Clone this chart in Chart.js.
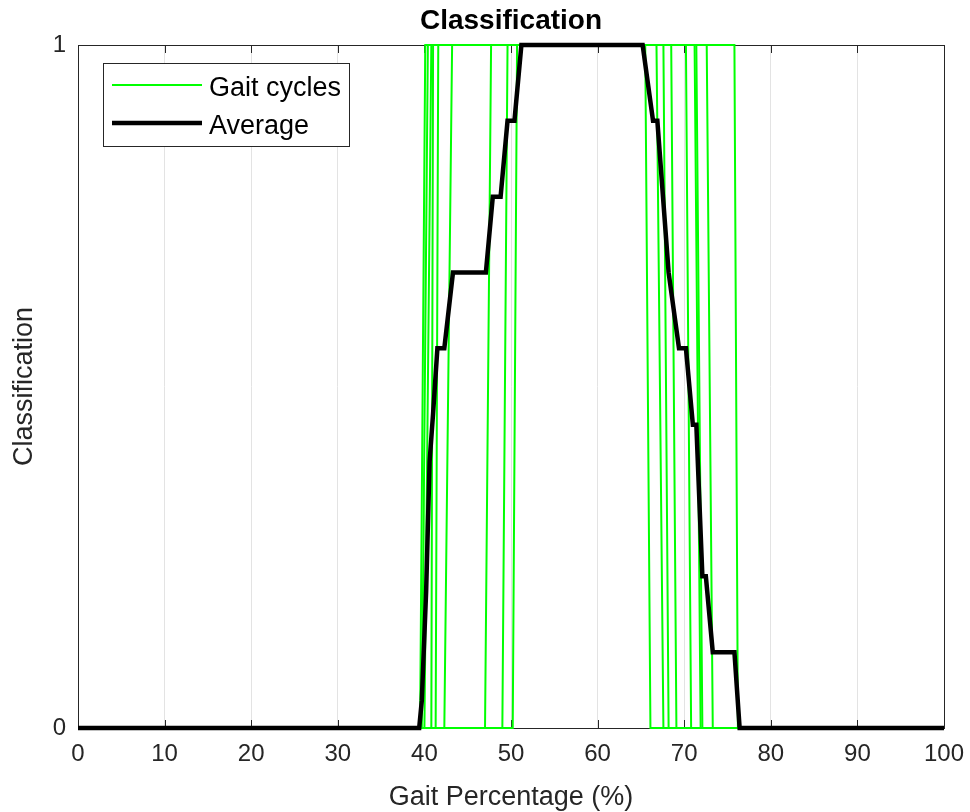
<!DOCTYPE html>
<html>
<head>
<meta charset="utf-8">
<script src="https://cdn.jsdelivr.net/npm/chart.js@4.4.1/dist/chart.umd.min.js"></script>
<style>
   html, body { margin: 0; padding: 0; background: #fff; }
   #wrap { width: 970px; height: 812px; }
</style>
</head>
<body>
<div id="wrap"><canvas id="chart-class"></canvas></div>
<script>
// dados (porcentagem da marcha)
const riseStart = [39.5, 39.7, 40.0, 40.8, 41.3, 42.3, 47.0, 49.0, 50.2];
const riseEnd   = [40.1, 40.4, 40.8, 41.0, 41.6, 43.2, 47.7, 49.6, 50.7];
const fallStart = [65.5, 66.8, 67.6, 68.5, 70.2, 71.2, 71.4, 72.6, 75.8];
const fallEnd   = [66.1, 67.6, 68.2, 69.1, 70.8, 71.9, 72.1, 73.3, 76.2];

// media (linha preta)
const avgX = [0, 39.4, 39.7, 40.2, 40.6, 41.0, 41.5, 42.3, 43.3, 47.1, 47.9, 48.8, 49.6, 50.4, 51.2,
   65.2, 66.4, 66.9, 68.2, 69.4, 70.2, 71.0, 71.4, 72.1, 72.5, 73.3, 75.8, 76.4, 100];
const avgY = [0, 0, 0.04, 0.2, 0.39, 0.46, 0.556, 0.556, 0.667, 0.667, 0.778, 0.778, 0.889, 0.889, 1,
   1, 0.889, 0.889, 0.667, 0.556, 0.556, 0.444, 0.444, 0.222, 0.222, 0.111, 0.111, 0, 0];

const xTicks = [0, 10, 20, 30, 40, 50, 60, 70, 80, 90, 100];
const yTicks = [0, 1];

const FONT = "'Liberation Sans', Arial, sans-serif";
const TXT = "#262626";

var datasets = [];
for (let i = 0; i < riseStart.length; i++) {
   datasets.push({
      label: "Gait cycles",
      data: [
         { x: 0, y: 0 },
         { x: riseStart[i], y: 0 },
         { x: riseEnd[i], y: 1 },
         { x: fallStart[i], y: 1 },
         { x: fallEnd[i], y: 0 },
         { x: 100, y: 0 },
      ],
      borderColor: "#00ff00",
      borderWidth: 2,
      pointRadius: 0,
      clip: 3,
      order: 1,
   });
}
datasets.push({
   label: "Average",
   data: avgX.map((x, i) => ({ x: x, y: avgY[i] })),
   borderColor: "#000000",
   borderWidth: 4.5,
   pointRadius: 0,
   clip: 3,
   order: 0,
});

// moldura, ticks para dentro, titulo e legenda
const molduraPlugin = {
   id: "moldura",
   beforeDatasetsDraw(chart) {
      const { ctx, chartArea: a, scales } = chart;
      ctx.save();
      ctx.strokeStyle = TXT;
      ctx.lineWidth = 1;
      ctx.strokeRect(a.left + 0.5, a.top + 0.5, a.right - a.left, a.bottom - a.top);
      ctx.beginPath();
      xTicks.forEach(v => {
         const px = Math.round(scales.x.getPixelForValue(v)) + 0.5;
         ctx.moveTo(px, a.bottom); ctx.lineTo(px, a.bottom - 8);
         ctx.moveTo(px, a.top); ctx.lineTo(px, a.top + 8);
      });
      yTicks.forEach(v => {
         const py = Math.round(scales.y.getPixelForValue(v)) + 0.5;
         ctx.moveTo(a.left, py); ctx.lineTo(a.left + 8, py);
         ctx.moveTo(a.right, py); ctx.lineTo(a.right - 8, py);
      });
      ctx.stroke();
      ctx.restore();
   },
   afterDraw(chart) {
      const { ctx, chartArea: a } = chart;
      ctx.save();
      // titulo
      ctx.fillStyle = "#000";
      ctx.font = "bold 28px " + FONT;
      ctx.textAlign = "center";
      ctx.textBaseline = "middle";
      ctx.fillText("Classification", (a.left + a.right) / 2, 21);

      // legenda
      const lx = a.left + 25, ly = a.top + 18, lw = 246, lh = 83;
      ctx.fillStyle = "#fff";
      ctx.fillRect(lx, ly, lw, lh);
      ctx.strokeStyle = TXT;
      ctx.lineWidth = 1;
      ctx.strokeRect(lx + 0.5, ly + 0.5, lw, lh);
      const itens = [datasets[0], datasets[datasets.length - 1]];
      ctx.font = "27px " + FONT;
      ctx.textAlign = "left";
      itens.forEach((ds, i) => {
         const yy = ly + 22 + i * 38;
         ctx.strokeStyle = ds.borderColor;
         ctx.lineWidth = ds.borderWidth;
         ctx.beginPath();
         ctx.moveTo(lx + 9, yy);
         ctx.lineTo(lx + 99, yy);
         ctx.stroke();
         ctx.fillStyle = "#000";
         ctx.fillText(ds.label, lx + 106, yy + 4);
      });
      ctx.restore();
   },
};

const ctxClass = document.getElementById("chart-class");
new Chart(ctxClass, {
   type: "line",
   data: { datasets: datasets },
   options: {
      responsive: true,
      maintainAspectRatio: false,
      animation: false,
      layout: {
         padding: { top: 45, right: 26, left: 0, bottom: 0 },
      },
      plugins: {
         legend: { display: false },
         title: { display: false },
         tooltip: { enabled: false },
      },
      scales: {
         x: {
            type: "linear",
            min: 0,
            max: 100,
            afterFit(scale) {
               scale.height = 84;
               scale.paddingLeft = 0;
               scale.paddingRight = 0;
            },
            afterBuildTicks(scale) { scale.ticks = xTicks.map(v => ({ value: v })); },
            ticks: {
               color: TXT,
               font: { family: FONT, size: 24 },
               padding: 12,
               maxRotation: 0,
            },
            grid: { color: "#e3e3e3", drawTicks: false },
            border: { display: false },
            title: {
               display: true,
               text: "Gait Percentage (%)",
               color: TXT,
               font: { family: FONT, size: 27, lineHeight: 1.1 },
               padding: { top: 0, bottom: 0 },
            },
         },
         y: {
            min: 0,
            max: 1,
            afterFit(scale) {
               scale.width = 78;
               scale.paddingTop = 0;
               scale.paddingBottom = 0;
            },
            afterBuildTicks(scale) { scale.ticks = yTicks.map(v => ({ value: v })); },
            ticks: {
               color: TXT,
               font: { family: FONT, size: 24 },
               padding: 12,
            },
            grid: { display: false, drawTicks: false },
            border: { display: false },
            title: {
               display: true,
               text: "Classification",
               color: TXT,
               font: { family: FONT, size: 27, lineHeight: 1.1 },
               padding: { top: 10, bottom: 0 },
            },
         },
      },
   },
   plugins: [molduraPlugin],
});
</script>
</body>
</html>
